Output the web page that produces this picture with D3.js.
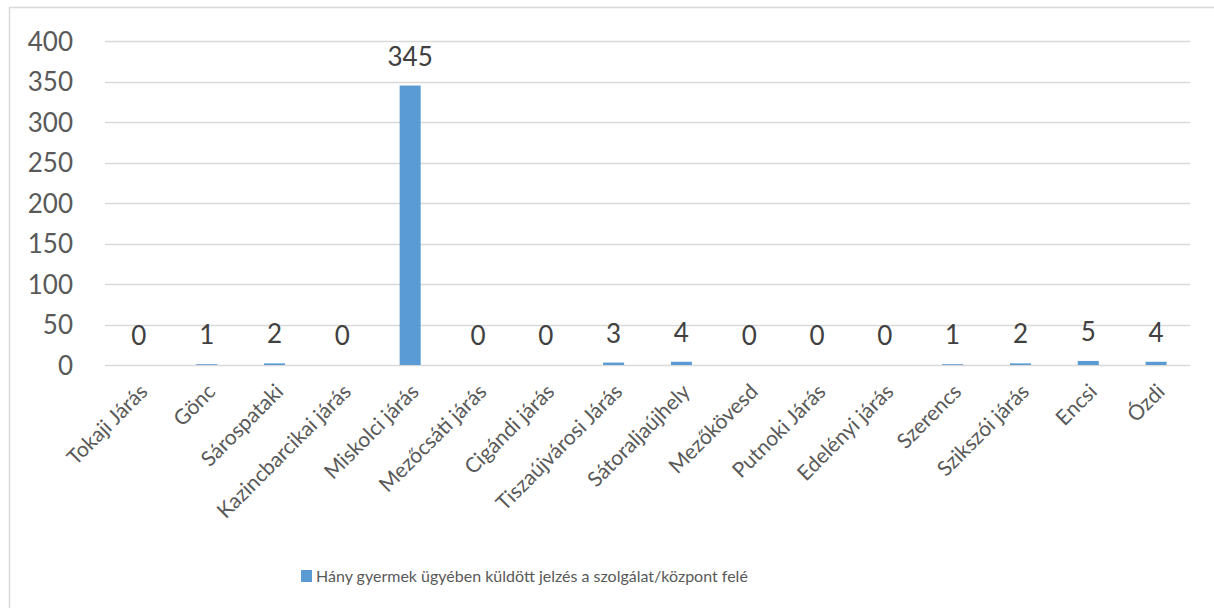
<!DOCTYPE html>
<html>
<head>
<meta charset="utf-8">
<script src="https://cdn.jsdelivr.net/npm/d3@7"></script>
<style>
  body { margin: 0; background: #fff; }
  svg { display: block; font-family: Lato, "Open Sans", sans-serif; }
</style>
</head>
<body>
<svg id="chart" width="1214" height="608"></svg>
<script>
// adatok
const categories = ["Tokaji Járás", "Gönc", "Sárospataki", "Kazincbarcikai járás", "Miskolci járás",
  "Mezőcsáti járás", "Cigándi járás", "Tiszaújvárosi Járás", "Sátoraljaújhely", "Mezőkövesd",
  "Putnoki Járás", "Edelényi járás", "Szerencs", "Szikszói járás", "Encsi", "Ózdi"];
const values = [0, 1, 2, 0, 345, 0, 0, 3, 4, 0, 0, 0, 1, 2, 5, 4];
const yTicks = [0, 50, 100, 150, 200, 250, 300, 350, 400];
const seriesName = "Hány gyermek ügyében küldött jelzés a szolgálat/központ felé";

const svg = d3.select("#chart");

// keret
svg.append("rect")
  .attr("x", 9.5).attr("y", 7.5)
  .attr("width", 1300).attr("height", 700)
  .attr("fill", "none").attr("stroke", "#d9d9d9").attr("stroke-width", 1.5);

const plotLeft = 105, plotRight = 1190, plotTop = 41, plotBottom = 365;

const x = d3.scaleBand().domain(categories).range([plotLeft, plotRight]).paddingInner(0.69).paddingOuter(0.345);
const y = d3.scaleLinear().domain([0, 400]).range([plotBottom, plotTop]);

// rácsvonalak
svg.append("g").selectAll("line")
  .data(yTicks)
  .enter().append("line")
  .attr("x1", plotLeft).attr("x2", plotRight)
  .attr("y1", d => Math.round(y(d)) + 0.5).attr("y2", d => Math.round(y(d)) + 0.5)
  .attr("stroke", "#d9d9d9").attr("stroke-width", 1.5);

// y tengely feliratok
const axisY = d3.axisLeft(y).tickValues(yTicks).tickSize(0).tickPadding(32);
const gy = svg.append("g").attr("transform", `translate(${plotLeft},0)`).call(axisY);
gy.select(".domain").remove();
gy.selectAll("text")
  .attr("fill", "#595959")
  .style("font-size", "26px")
  .style("font-family", "Lato, sans-serif")
  .attr("dy", "0.36em");

// oszlopok
svg.append("g").selectAll("rect")
  .data(values)
  .enter().append("rect")
  .attr("x", (d, i) => x(categories[i]))
  .attr("y", d => y(d))
  .attr("width", x.bandwidth())
  .attr("height", d => plotBottom - y(d))
  .attr("fill", "#5b9bd5");

// érték feliratok
svg.append("g").selectAll("text")
  .data(values)
  .enter().append("text")
  .attr("x", (d, i) => x(categories[i]) + x.bandwidth() / 2)
  .attr("y", d => y(d) - 20)
  .attr("text-anchor", "middle")
  .attr("fill", "#404040")
  .style("font-size", "26px")
  .text(d => d);

// x tengely feliratok
const axisX = d3.axisBottom(x).tickSize(0).tickPadding(0);
const gx = svg.append("g").attr("transform", `translate(0,${plotBottom})`).call(axisX);
gx.select(".domain").remove();
gx.selectAll("text")
  .style("text-anchor", "end")
  .style("font-size", "21px")
  .style("font-family", "Lato, sans-serif")
  .attr("fill", "#595959")
  .attr("dy", null)
  .attr("y", 0)
  .attr("transform", "translate(10,28) rotate(-45)");

// jelmagyarázat
const legend = svg.append("g").attr("transform", "translate(301,570)");
legend.append("rect").attr("width", 11).attr("height", 12).attr("fill", "#5b9bd5");
legend.append("text")
  .attr("x", 15).attr("y", 12)
  .attr("fill", "#595959")
  .style("font-size", "16px")
  .text(seriesName);
</script>
</body>
</html>
